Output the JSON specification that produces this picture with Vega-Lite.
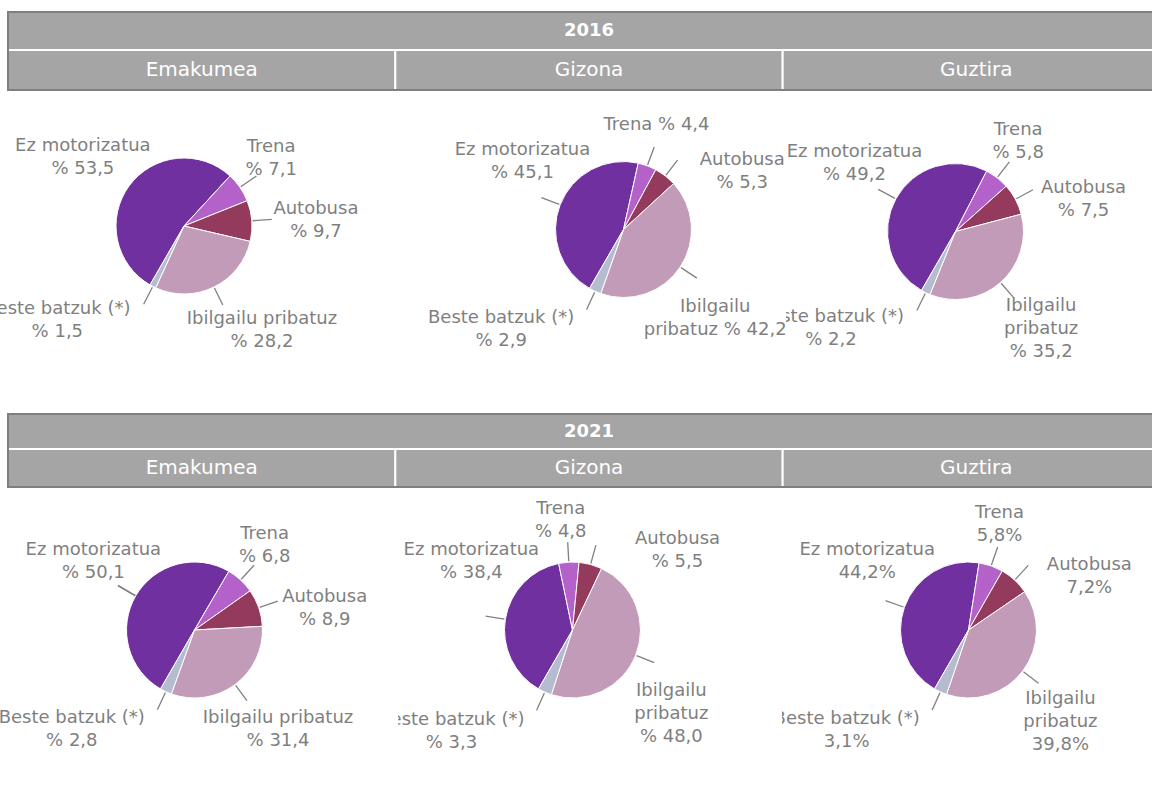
{
  "$schema": "https://vega.github.io/schema/vega-lite/v6.json",
  "padding": 0,
  "autosize": {"type": "pad"},
  "background": "white",
  "spacing": 0,
  "bounds": "full",
  "config": {"view": {"stroke": null}, "font": "DejaVu Sans", "concat": {"spacing": 0}},
  "datasets": {
    "pies": [
      {"year": "2016", "sex": "Emakumea", "mode": "Ez motorizatua", "k": 1, "value": 53.5, "label": "Ez motorizatua\n% 53,5"},
      {"year": "2016", "sex": "Emakumea", "mode": "Trena", "k": 2, "value": 7.1, "label": "Trena\n% 7,1"},
      {"year": "2016", "sex": "Emakumea", "mode": "Autobusa", "k": 3, "value": 9.7, "label": "Autobusa\n% 9,7"},
      {"year": "2016", "sex": "Emakumea", "mode": "Ibilgailu pribatuz", "k": 4, "value": 28.2, "label": "Ibilgailu pribatuz\n% 28,2"},
      {"year": "2016", "sex": "Emakumea", "mode": "Beste batzuk (*)", "k": 5, "value": 1.5, "label": "Beste batzuk (*)\n% 1,5"},
      {"year": "2016", "sex": "Gizona", "mode": "Ez motorizatua", "k": 1, "value": 45.1, "label": "Ez motorizatua\n% 45,1"},
      {"year": "2016", "sex": "Gizona", "mode": "Trena", "k": 2, "value": 4.4, "label": "Trena % 4,4"},
      {"year": "2016", "sex": "Gizona", "mode": "Autobusa", "k": 3, "value": 5.3, "label": "Autobusa\n% 5,3"},
      {"year": "2016", "sex": "Gizona", "mode": "Ibilgailu pribatuz", "k": 4, "value": 42.2, "label": "Ibilgailu\npribatuz % 42,2"},
      {"year": "2016", "sex": "Gizona", "mode": "Beste batzuk (*)", "k": 5, "value": 2.9, "label": "Beste batzuk (*)\n% 2,9"},
      {"year": "2016", "sex": "Guztira", "mode": "Ez motorizatua", "k": 1, "value": 49.2, "label": "Ez motorizatua\n% 49,2"},
      {"year": "2016", "sex": "Guztira", "mode": "Trena", "k": 2, "value": 5.8, "label": "Trena\n% 5,8"},
      {"year": "2016", "sex": "Guztira", "mode": "Autobusa", "k": 3, "value": 7.5, "label": "Autobusa\n% 7,5"},
      {"year": "2016", "sex": "Guztira", "mode": "Ibilgailu pribatuz", "k": 4, "value": 35.2, "label": "Ibilgailu\npribatuz\n% 35,2"},
      {"year": "2016", "sex": "Guztira", "mode": "Beste batzuk (*)", "k": 5, "value": 2.2, "label": "Beste batzuk (*)\n% 2,2"},
      {"year": "2021", "sex": "Emakumea", "mode": "Ez motorizatua", "k": 1, "value": 50.1, "label": "Ez motorizatua\n% 50,1"},
      {"year": "2021", "sex": "Emakumea", "mode": "Trena", "k": 2, "value": 6.8, "label": "Trena\n% 6,8"},
      {"year": "2021", "sex": "Emakumea", "mode": "Autobusa", "k": 3, "value": 8.9, "label": "Autobusa\n% 8,9"},
      {"year": "2021", "sex": "Emakumea", "mode": "Ibilgailu pribatuz", "k": 4, "value": 31.4, "label": "Ibilgailu pribatuz\n% 31,4"},
      {"year": "2021", "sex": "Emakumea", "mode": "Beste batzuk (*)", "k": 5, "value": 2.8, "label": "Beste batzuk (*)\n% 2,8"},
      {"year": "2021", "sex": "Gizona", "mode": "Ez motorizatua", "k": 1, "value": 38.4, "label": "Ez motorizatua\n% 38,4"},
      {"year": "2021", "sex": "Gizona", "mode": "Trena", "k": 2, "value": 4.8, "label": "Trena\n% 4,8"},
      {"year": "2021", "sex": "Gizona", "mode": "Autobusa", "k": 3, "value": 5.5, "label": "Autobusa\n% 5,5"},
      {"year": "2021", "sex": "Gizona", "mode": "Ibilgailu pribatuz", "k": 4, "value": 48.0, "label": "Ibilgailu\npribatuz\n% 48,0"},
      {"year": "2021", "sex": "Gizona", "mode": "Beste batzuk (*)", "k": 5, "value": 3.3, "label": "Beste batzuk (*)\n% 3,3"},
      {"year": "2021", "sex": "Guztira", "mode": "Ez motorizatua", "k": 1, "value": 44.2, "label": "Ez motorizatua\n44,2%"},
      {"year": "2021", "sex": "Guztira", "mode": "Trena", "k": 2, "value": 5.8, "label": "Trena\n5,8%"},
      {"year": "2021", "sex": "Guztira", "mode": "Autobusa", "k": 3, "value": 7.2, "label": "Autobusa\n7,2%"},
      {"year": "2021", "sex": "Guztira", "mode": "Ibilgailu pribatuz", "k": 4, "value": 39.8, "label": "Ibilgailu\npribatuz\n39,8%"},
      {"year": "2021", "sex": "Guztira", "mode": "Beste batzuk (*)", "k": 5, "value": 3.1, "label": "Beste batzuk (*)\n3,1%"}
    ],
    "cols": [
      {"label": "Emakumea", "r": "sub"},
      {"label": "Gizona", "r": "sub"},
      {"label": "Guztira", "r": "sub"}
    ]
  },
  "vconcat": [
    {
      "width": 1152, "height": 91,
      "resolve": {"scale": {"x": "independent", "y": "independent"}},
      "layer": [
        {
          "data": {"values": [{"label": "2016"}]},
          "layer": [
            {"mark": {"type": "rect", "fill": "#A5A5A5", "stroke": "white", "strokeWidth": 2, "clip": true},
             "encoding": {
               "x": {"field": "label", "type": "nominal", "axis": null, "scale": {"type": "band", "range": [8, 1170], "paddingInner": 0, "paddingOuter": 0}},
               "y": {"field": "label", "type": "nominal", "axis": null, "scale": {"type": "band", "range": [12, 50], "paddingInner": 0, "paddingOuter": 0}}
             }},
            {"mark": {"type": "text", "color": "white", "fontSize": 18, "fontWeight": "bold", "font": "DejaVu Sans", "align": "center", "baseline": "middle"},
             "encoding": {
               "x": {"field": "label", "type": "nominal", "axis": null, "bandPosition": 0.5, "scale": {"type": "band", "range": [8, 1170], "paddingInner": 0, "paddingOuter": 0}},
               "y": {"field": "label", "type": "nominal", "axis": null, "bandPosition": 0.5, "scale": {"type": "band", "range": [12, 50], "paddingInner": 0, "paddingOuter": 0}},
               "text": {"field": "label"}
             }}
          ]
        },
        {
          "data": {"name": "cols"},
          "layer": [
            {"mark": {"type": "rect", "fill": "#A5A5A5", "stroke": "white", "strokeWidth": 2, "clip": true},
             "encoding": {
               "x": {"field": "label", "type": "nominal", "axis": null, "sort": null, "scale": {"type": "band", "range": [8, 1170], "paddingInner": 0, "paddingOuter": 0}},
               "y": {"field": "r", "type": "nominal", "axis": null, "scale": {"type": "band", "range": [50, 90], "paddingInner": 0, "paddingOuter": 0}}
             }},
            {"mark": {"type": "text", "color": "white", "fontSize": 20, "font": "DejaVu Sans", "align": "center", "baseline": "middle"},
             "encoding": {
               "x": {"field": "label", "type": "nominal", "axis": null, "sort": null, "bandPosition": 0.5, "scale": {"type": "band", "range": [8, 1170], "paddingInner": 0, "paddingOuter": 0}},
               "y": {"field": "r", "type": "nominal", "axis": null, "bandPosition": 0.5, "scale": {"type": "band", "range": [50, 90], "paddingInner": 0, "paddingOuter": 0}},
               "text": {"field": "label"}
             }}
          ]
        },
        {
          "data": {"values": [{"label": "2016"}]},
          "mark": {"type": "rect", "filled": false, "stroke": "#7F7F7F", "strokeWidth": 2, "clip": true},
          "encoding": {
            "x": {"field": "label", "type": "nominal", "axis": null, "scale": {"type": "band", "range": [8, 1170], "paddingInner": 0, "paddingOuter": 0}},
            "y": {"field": "label", "type": "nominal", "axis": null, "scale": {"type": "band", "range": [12, 90], "paddingInner": 0, "paddingOuter": 0}}
          }
        }
      ]
    },
    {
      "hconcat": [
        {
          "width": 398, "height": 270,
          "data": {"name": "pies"},
          "transform": [{"filter": "datum.year === '2016' && datum.sex === 'Emakumea'"}],
          "encoding": {
            "theta": {"field": "value", "type": "quantitative", "stack": true, "scale": {"range": [3.66519, 9.94838]}},
            "order": {"field": "k", "type": "quantitative"}
          },
          "layer": [
            {"mark": {"type": "arc", "xOffset": -15, "radius": 68, "stroke": "white", "strokeWidth": 1},
             "encoding": {"color": {"field": "mode", "type": "nominal", "legend": null, "scale": {"domain": ["Ez motorizatua", "Trena", "Autobusa", "Ibilgailu pribatuz", "Beste batzuk (*)"], "range": ["#7030A0", "#B462C9", "#943A5C", "#C19BB8", "#B6BCCF"]}}}},
            {"mark": {"type": "arc", "xOffset": -15, "radius": 88, "radius2": 69, "padAngle": 3.1416, "filled": false, "stroke": "#808080", "strokeWidth": 1.3},
             "encoding": {"strokeOpacity": {"condition": {"test": "datum.value > 51", "value": 0}, "value": 1}}},
            {"mark": {"type": "text", "xOffset": -15, "clip": true, "font": "DejaVu Sans", "fontSize": 18, "color": "#7F7F7F", "lineBreak": "\n", "lineHeight": 23, "align": "center", "baseline": "middle",
                      "dy": {"expr": "-(length(split(datum.label, '\\n')) - 1) * 11.5"},
                      "radius": {"expr": "datum.mode === 'Trena' ? 110 : datum.mode === 'Autobusa' ? 132 : datum.mode === 'Ibilgailu pribatuz' ? 130 : datum.mode === 'Beste batzuk (*)' ? 158 : 122"},
                      "thetaOffset": {"expr": "(datum.mode === 'Autobusa' ? 120 - 0.9 * (datum.value_start + datum.value_end) : datum.mode === 'Ibilgailu pribatuz' ? 202 - 1.26 * (datum.value_start + datum.value_end) : datum.mode === 'Trena' ? -3 : datum.mode === 'Beste batzuk (*)' ? 26 : 94 - 1.8 * (datum.value_start + datum.value_end)) * PI / 180"}},
             "encoding": {"text": {"field": "label"}}}
          ]
        },
        {
          "width": 388, "height": 277,
          "data": {"name": "pies"},
          "transform": [{"filter": "datum.year === '2016' && datum.sex === 'Gizona'"}],
          "encoding": {
            "theta": {"field": "value", "type": "quantitative", "stack": true, "scale": {"range": [3.66519, 9.94838]}},
            "order": {"field": "k", "type": "quantitative"}
          },
          "layer": [
            {"mark": {"type": "arc", "xOffset": 31.5, "radius": 68, "stroke": "white", "strokeWidth": 1},
             "encoding": {"color": {"field": "mode", "type": "nominal", "legend": null, "scale": {"domain": ["Ez motorizatua", "Trena", "Autobusa", "Ibilgailu pribatuz", "Beste batzuk (*)"], "range": ["#7030A0", "#B462C9", "#943A5C", "#C19BB8", "#B6BCCF"]}}}},
            {"mark": {"type": "arc", "xOffset": 31.5, "radius": 88, "radius2": 69, "padAngle": 3.1416, "filled": false, "stroke": "#808080", "strokeWidth": 1.3},
             "encoding": {"strokeOpacity": {"condition": {"test": "datum.value > 51", "value": 0}, "value": 1}}},
            {"mark": {"type": "text", "xOffset": 31.5, "font": "DejaVu Sans", "fontSize": 18, "color": "#7F7F7F", "lineBreak": "\n", "lineHeight": 23, "align": "center", "baseline": "middle",
                      "dy": {"expr": "-(length(split(datum.label, '\\n')) - 1) * 11.5"},
                      "radius": {"expr": "datum.mode === 'Trena' ? 110 : datum.mode === 'Autobusa' ? 132 : datum.mode === 'Ibilgailu pribatuz' ? 128 : datum.mode === 'Beste batzuk (*)' ? 158 : 122"},
                      "thetaOffset": {"expr": "(datum.mode === 'Autobusa' ? 120 - 0.9 * (datum.value_start + datum.value_end) : datum.mode === 'Ibilgailu pribatuz' ? 202 - 1.26 * (datum.value_start + datum.value_end) : datum.mode === 'Trena' ? -3 : datum.mode === 'Beste batzuk (*)' ? 26 : 94 - 1.8 * (datum.value_start + datum.value_end)) * PI / 180"}},
             "encoding": {"text": {"field": "label"}}}
          ]
        },
        {
          "width": 366, "height": 281,
          "data": {"name": "pies"},
          "transform": [{"filter": "datum.year === '2016' && datum.sex === 'Guztira'"}],
          "encoding": {
            "theta": {"field": "value", "type": "quantitative", "stack": true, "scale": {"range": [3.66519, 9.94838]}},
            "order": {"field": "k", "type": "quantitative"}
          },
          "layer": [
            {"mark": {"type": "arc", "xOffset": -13.5, "radius": 68, "stroke": "white", "strokeWidth": 1},
             "encoding": {"color": {"field": "mode", "type": "nominal", "legend": null, "scale": {"domain": ["Ez motorizatua", "Trena", "Autobusa", "Ibilgailu pribatuz", "Beste batzuk (*)"], "range": ["#7030A0", "#B462C9", "#943A5C", "#C19BB8", "#B6BCCF"]}}}},
            {"mark": {"type": "arc", "xOffset": -13.5, "radius": 88, "radius2": 69, "padAngle": 3.1416, "filled": false, "stroke": "#808080", "strokeWidth": 1.3},
             "encoding": {"strokeOpacity": {"condition": {"test": "datum.value > 51", "value": 0}, "value": 1}}},
            {"mark": {"type": "text", "xOffset": -13.5, "clip": true, "font": "DejaVu Sans", "fontSize": 18, "color": "#7F7F7F", "lineBreak": "\n", "lineHeight": 23, "align": "center", "baseline": "middle",
                      "dy": {"expr": "-(length(split(datum.label, '\\n')) - 1) * 11.5"},
                      "radius": {"expr": "datum.mode === 'Trena' ? 110 : datum.mode === 'Autobusa' ? 132 : datum.mode === 'Ibilgailu pribatuz' ? 130 : datum.mode === 'Beste batzuk (*)' ? 158 : 122"},
                      "thetaOffset": {"expr": "(datum.mode === 'Autobusa' ? 120 - 0.9 * (datum.value_start + datum.value_end) : datum.mode === 'Ibilgailu pribatuz' ? 202 - 1.26 * (datum.value_start + datum.value_end) : datum.mode === 'Trena' ? -3 : datum.mode === 'Beste batzuk (*)' ? 26 : 94 - 1.8 * (datum.value_start + datum.value_end)) * PI / 180"}},
             "encoding": {"text": {"field": "label"}}}
          ]
        }
      ],
      "spacing": 0,
      "bounds": "flush"
    },
    {
      "width": 1152, "height": 116,
      "resolve": {"scale": {"x": "independent", "y": "independent"}},
      "layer": [
        {
          "data": {"values": [{"label": "2021"}]},
          "layer": [
            {"mark": {"type": "rect", "fill": "#A5A5A5", "stroke": "white", "strokeWidth": 2, "clip": true},
             "encoding": {
               "x": {"field": "label", "type": "nominal", "axis": null, "scale": {"type": "band", "range": [8, 1170], "paddingInner": 0, "paddingOuter": 0}},
               "y": {"field": "label", "type": "nominal", "axis": null, "scale": {"type": "band", "range": [42, 77], "paddingInner": 0, "paddingOuter": 0}}
             }},
            {"mark": {"type": "text", "color": "white", "fontSize": 18, "fontWeight": "bold", "font": "DejaVu Sans", "align": "center", "baseline": "middle"},
             "encoding": {
               "x": {"field": "label", "type": "nominal", "axis": null, "bandPosition": 0.5, "scale": {"type": "band", "range": [8, 1170], "paddingInner": 0, "paddingOuter": 0}},
               "y": {"field": "label", "type": "nominal", "axis": null, "bandPosition": 0.5, "scale": {"type": "band", "range": [42, 77], "paddingInner": 0, "paddingOuter": 0}},
               "text": {"field": "label"}
             }}
          ]
        },
        {
          "data": {"name": "cols"},
          "layer": [
            {"mark": {"type": "rect", "fill": "#A5A5A5", "stroke": "white", "strokeWidth": 2, "clip": true},
             "encoding": {
               "x": {"field": "label", "type": "nominal", "axis": null, "sort": null, "scale": {"type": "band", "range": [8, 1170], "paddingInner": 0, "paddingOuter": 0}},
               "y": {"field": "r", "type": "nominal", "axis": null, "scale": {"type": "band", "range": [77, 115], "paddingInner": 0, "paddingOuter": 0}}
             }},
            {"mark": {"type": "text", "color": "white", "fontSize": 20, "font": "DejaVu Sans", "align": "center", "baseline": "middle"},
             "encoding": {
               "x": {"field": "label", "type": "nominal", "axis": null, "sort": null, "bandPosition": 0.5, "scale": {"type": "band", "range": [8, 1170], "paddingInner": 0, "paddingOuter": 0}},
               "y": {"field": "r", "type": "nominal", "axis": null, "bandPosition": 0.5, "scale": {"type": "band", "range": [77, 115], "paddingInner": 0, "paddingOuter": 0}},
               "text": {"field": "label"}
             }}
          ]
        },
        {
          "data": {"values": [{"label": "2021"}]},
          "mark": {"type": "rect", "filled": false, "stroke": "#7F7F7F", "strokeWidth": 2, "clip": true},
          "encoding": {
            "x": {"field": "label", "type": "nominal", "axis": null, "scale": {"type": "band", "range": [8, 1170], "paddingInner": 0, "paddingOuter": 0}},
            "y": {"field": "label", "type": "nominal", "axis": null, "scale": {"type": "band", "range": [42, 115], "paddingInner": 0, "paddingOuter": 0}}
          }
        }
      ]
    },
    {
      "hconcat": [
        {
          "width": 398, "height": 284,
          "data": {"name": "pies"},
          "transform": [{"filter": "datum.year === '2021' && datum.sex === 'Emakumea'"}],
          "encoding": {
            "theta": {"field": "value", "type": "quantitative", "stack": true, "scale": {"range": [3.66519, 9.94838]}},
            "order": {"field": "k", "type": "quantitative"}
          },
          "layer": [
            {"mark": {"type": "arc", "xOffset": -4.5, "radius": 68, "stroke": "white", "strokeWidth": 1},
             "encoding": {"color": {"field": "mode", "type": "nominal", "legend": null, "scale": {"domain": ["Ez motorizatua", "Trena", "Autobusa", "Ibilgailu pribatuz", "Beste batzuk (*)"], "range": ["#7030A0", "#B462C9", "#943A5C", "#C19BB8", "#B6BCCF"]}}}},
            {"mark": {"type": "arc", "xOffset": -4.5, "radius": 88, "radius2": 69, "padAngle": 3.1416, "filled": false, "stroke": "#808080", "strokeWidth": 1.3},
             "encoding": {"strokeOpacity": {"condition": {"test": "datum.value > 51", "value": 0}, "value": 1}}},
            {"mark": {"type": "text", "xOffset": -4.5, "clip": true, "font": "DejaVu Sans", "fontSize": 18, "color": "#7F7F7F", "lineBreak": "\n", "lineHeight": 23, "align": "center", "baseline": "middle",
                      "dy": {"expr": "-(length(split(datum.label, '\\n')) - 1) * 11.5"},
                      "radius": {"expr": "datum.mode === 'Trena' ? 110 : datum.mode === 'Autobusa' ? 132 : datum.mode === 'Ibilgailu pribatuz' ? 130 : datum.mode === 'Beste batzuk (*)' ? 158 : 122"},
                      "thetaOffset": {"expr": "(datum.mode === 'Autobusa' ? 120 - 0.9 * (datum.value_start + datum.value_end) : datum.mode === 'Ibilgailu pribatuz' ? 202 - 1.26 * (datum.value_start + datum.value_end) : datum.mode === 'Trena' ? -3 : datum.mode === 'Beste batzuk (*)' ? 26 : 94 - 1.8 * (datum.value_start + datum.value_end)) * PI / 180"}},
             "encoding": {"text": {"field": "label"}}}
          ]
        },
        {
          "width": 384, "height": 284,
          "data": {"name": "pies"},
          "transform": [{"filter": "datum.year === '2021' && datum.sex === 'Gizona'"}],
          "encoding": {
            "theta": {"field": "value", "type": "quantitative", "stack": true, "scale": {"range": [3.66519, 9.94838]}},
            "order": {"field": "k", "type": "quantitative"}
          },
          "layer": [
            {"mark": {"type": "arc", "xOffset": -17.5, "radius": 68, "stroke": "white", "strokeWidth": 1},
             "encoding": {"color": {"field": "mode", "type": "nominal", "legend": null, "scale": {"domain": ["Ez motorizatua", "Trena", "Autobusa", "Ibilgailu pribatuz", "Beste batzuk (*)"], "range": ["#7030A0", "#B462C9", "#943A5C", "#C19BB8", "#B6BCCF"]}}}},
            {"mark": {"type": "arc", "xOffset": -17.5, "radius": 88, "radius2": 69, "padAngle": 3.1416, "filled": false, "stroke": "#808080", "strokeWidth": 1.3},
             "encoding": {"strokeOpacity": {"condition": {"test": "datum.value > 51", "value": 0}, "value": 1}}},
            {"mark": {"type": "text", "xOffset": -17.5, "clip": true, "font": "DejaVu Sans", "fontSize": 18, "color": "#7F7F7F", "lineBreak": "\n", "lineHeight": 23, "align": "center", "baseline": "middle",
                      "dy": {"expr": "-(length(split(datum.label, '\\n')) - 1) * 11.5"},
                      "radius": {"expr": "datum.mode === 'Trena' ? 110 : datum.mode === 'Autobusa' ? 132 : datum.mode === 'Ibilgailu pribatuz' ? 130 : datum.mode === 'Beste batzuk (*)' ? 158 : 122"},
                      "thetaOffset": {"expr": "(datum.mode === 'Autobusa' ? 120 - 0.9 * (datum.value_start + datum.value_end) : datum.mode === 'Ibilgailu pribatuz' ? 202 - 1.26 * (datum.value_start + datum.value_end) : datum.mode === 'Trena' ? -3 : datum.mode === 'Beste batzuk (*)' ? 26 : 94 - 1.8 * (datum.value_start + datum.value_end)) * PI / 180"}},
             "encoding": {"text": {"field": "label"}}}
          ]
        },
        {
          "width": 370, "height": 284,
          "data": {"name": "pies"},
          "transform": [{"filter": "datum.year === '2021' && datum.sex === 'Guztira'"}],
          "encoding": {
            "theta": {"field": "value", "type": "quantitative", "stack": true, "scale": {"range": [3.66519, 9.94838]}},
            "order": {"field": "k", "type": "quantitative"}
          },
          "layer": [
            {"mark": {"type": "arc", "xOffset": 1.5, "radius": 68, "stroke": "white", "strokeWidth": 1},
             "encoding": {"color": {"field": "mode", "type": "nominal", "legend": null, "scale": {"domain": ["Ez motorizatua", "Trena", "Autobusa", "Ibilgailu pribatuz", "Beste batzuk (*)"], "range": ["#7030A0", "#B462C9", "#943A5C", "#C19BB8", "#B6BCCF"]}}}},
            {"mark": {"type": "arc", "xOffset": 1.5, "radius": 88, "radius2": 69, "padAngle": 3.1416, "filled": false, "stroke": "#808080", "strokeWidth": 1.3},
             "encoding": {"strokeOpacity": {"condition": {"test": "datum.value > 51", "value": 0}, "value": 1}}},
            {"mark": {"type": "text", "xOffset": 1.5, "clip": true, "font": "DejaVu Sans", "fontSize": 18, "color": "#7F7F7F", "lineBreak": "\n", "lineHeight": 23, "align": "center", "baseline": "middle",
                      "dy": {"expr": "-(length(split(datum.label, '\\n')) - 1) * 11.5"},
                      "radius": {"expr": "datum.mode === 'Trena' ? 110 : datum.mode === 'Autobusa' ? 132 : datum.mode === 'Ibilgailu pribatuz' ? 130 : datum.mode === 'Beste batzuk (*)' ? 158 : 122"},
                      "thetaOffset": {"expr": "(datum.mode === 'Autobusa' ? 120 - 0.9 * (datum.value_start + datum.value_end) : datum.mode === 'Ibilgailu pribatuz' ? 202 - 1.26 * (datum.value_start + datum.value_end) : datum.mode === 'Trena' ? -3 : datum.mode === 'Beste batzuk (*)' ? 26 : 94 - 1.8 * (datum.value_start + datum.value_end)) * PI / 180"}},
             "encoding": {"text": {"field": "label"}}}
          ]
        }
      ],
      "spacing": 0,
      "bounds": "flush"
    }
  ]
}
